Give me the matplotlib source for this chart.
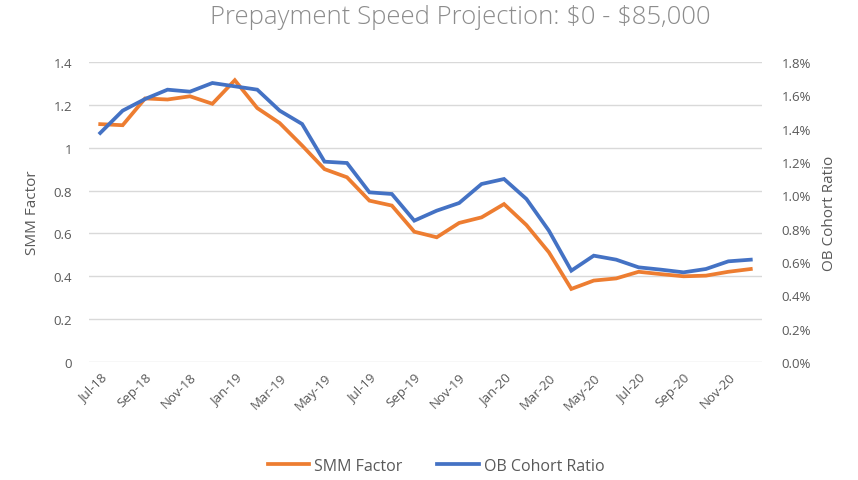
import matplotlib
matplotlib.use("Agg")
import matplotlib.pyplot as plt
from matplotlib.ticker import FuncFormatter, MultipleLocator
from matplotlib.lines import Line2D

months = ["Jul-18", "Aug-18", "Sep-18", "Oct-18", "Nov-18", "Dec-18",
          "Jan-19", "Feb-19", "Mar-19", "Apr-19", "May-19", "Jun-19",
          "Jul-19", "Aug-19", "Sep-19", "Oct-19", "Nov-19", "Dec-19",
          "Jan-20", "Feb-20", "Mar-20", "Apr-20", "May-20", "Jun-20",
          "Jul-20", "Aug-20", "Sep-20", "Oct-20", "Nov-20", "Dec-20"]
smm_factor = [1.11, 1.105, 1.23, 1.225, 1.24, 1.205, 1.315, 1.185, 1.115, 1.01,
              0.90, 0.862, 0.753, 0.73, 0.608, 0.582, 0.649, 0.675, 0.737, 0.639,
              0.512, 0.341, 0.38, 0.39, 0.421, 0.41, 0.40, 0.403, 0.421, 0.434]
ob_cohort_ratio = [1.374, 1.508, 1.578, 1.634, 1.622, 1.674, 1.654, 1.634, 1.508, 1.428,
                   1.202, 1.194, 1.018, 1.008, 0.848, 0.908, 0.954, 1.068, 1.098, 0.978,
                   0.788, 0.548, 0.638, 0.614, 0.568, 0.554, 0.538, 0.558, 0.604, 0.614]

ORANGE = "#ED7D31"
BLUE = "#4472C4"
TXT = "#595959"
GRID = "#D9D9D9"
FONT = ["Open Sans", "DejaVu Sans"]
plt.rcParams["font.family"] = FONT

fig = plt.figure(figsize=(8.58, 4.81), dpi=100)
ax = fig.add_axes([89/858, 1-363/481, (762-89)/858, 300/481])
ax2 = ax.twinx()

x = list(range(len(months)))
ax.plot(x, smm_factor, color=ORANGE, lw=2.7, solid_joinstyle="miter", zorder=3)
ax2.plot(x, ob_cohort_ratio, color=BLUE, lw=2.7, solid_joinstyle="miter", zorder=3)

ax.set_xlim(-0.5, len(months) - 0.5)
ax.set_ylim(0, 1.4)
ax2.set_ylim(0, 1.8)
ax.yaxis.set_major_locator(MultipleLocator(0.2))
ax2.yaxis.set_major_locator(MultipleLocator(0.2))
ax.yaxis.set_major_formatter(FuncFormatter(lambda v, p: "0" if abs(v) < 1e-9 else ("1" if abs(v-1) < 1e-9 else f"{v:.1f}")))
ax2.yaxis.set_major_formatter(FuncFormatter(lambda v, p: f"{v:.1f}%"))

ax.set_xticks(x[::2])
ax.set_xticklabels(months[::2], rotation=45, ha="right", rotation_mode="anchor")

ax.grid(axis="y", color=GRID, lw=1)
ax.set_axisbelow(True)
for a in (ax, ax2):
    for s in a.spines.values():
        s.set_visible(False)
    a.tick_params(length=0, colors=TXT, labelsize=9.5)
ax.tick_params(axis="y", pad=12)
ax2.tick_params(axis="y", pad=14)
ax.tick_params(axis="x", pad=6)

ax.set_ylabel("SMM Factor", color=TXT, fontsize=11, labelpad=10)
ax2.set_ylabel("OB Cohort Ratio", color=TXT, fontsize=11, rotation=90, labelpad=8)

fig.text(460/858, 1-18/481, "Prepayment Speed Projection: \\$0 - \\$85,000", ha="center", va="center",
         fontsize=18.5, color="#8C8C8C", fontweight="light")

handles = [Line2D([], [], color=ORANGE, lw=2.7), Line2D([], [], color=BLUE, lw=2.7)]
fig.legend(handles, ["SMM Factor", "OB Cohort Ratio"], loc="center", bbox_to_anchor=(436/858, 1-467/481),
           ncol=2, frameon=False, fontsize=11.5, labelcolor=TXT, handlelength=2.6,
           handletextpad=0.3, columnspacing=2.2)

fig.savefig("out.png", dpi=100)
